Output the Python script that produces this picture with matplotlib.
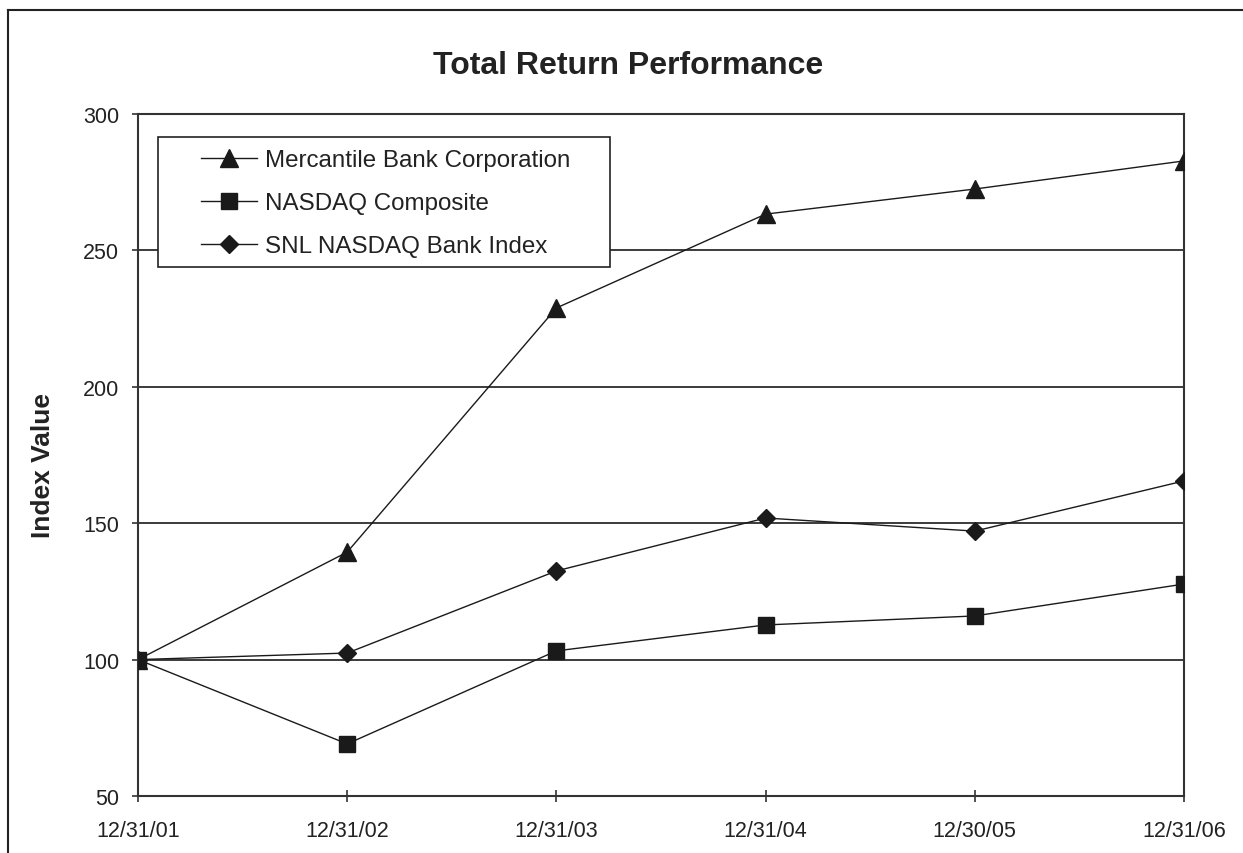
import matplotlib
matplotlib.use("Agg")
import matplotlib.pyplot as plt
from matplotlib.lines import Line2D
from matplotlib.patches import Rectangle

plt.rcParams['font.family'] = ['Liberation Sans', 'DejaVu Sans']

dates = ["12/31/01", "12/31/02", "12/31/03", "12/31/04", "12/30/05", "12/31/06"]
mercantile = [100, 139.4, 228.9, 263.3, 272.5, 282.8]
nasdaq = [100, 69.1, 103.2, 112.7, 116.0, 127.7]
snl_bank = [100, 102.4, 132.5, 151.9, 147.1, 165.5]

W, H = 1243, 854
fig = plt.figure(figsize=(W / 100, H / 100), dpi=100)

# outer frame (only top and left edges show in the original)
fig.add_artist(Line2D([8 / W, 1], [1 - 11 / H, 1 - 11 / H], color="#222222", lw=1.5))
fig.add_artist(Line2D([8 / W, 8 / W], [0, 1 - 11 / H], color="#222222", lw=1.5))

# axes box in pixels
L, R, T, B = 138, 1184, 115, 797
ax = fig.add_axes([L / W, 1 - B / H, (R - L) / W, (B - T) / H])
aw, ah = R - L, B - T

x = list(range(len(dates)))
ink = "#1a1a1a"
ax.plot(x, mercantile, color=ink, lw=1, marker="^", ms=13, label="Mercantile Bank Corporation", zorder=3)
ax.plot(x, nasdaq, color=ink, lw=1, marker="s", ms=11, label="NASDAQ Composite", zorder=3)
ax.plot(x, snl_bank, color=ink, lw=1, marker="D", ms=9.5, label="SNL NASDAQ Bank Index", zorder=3)

ax.set_xlim(0, len(dates) - 1)
ax.set_ylim(50, 300)
ax.set_yticks([50, 100, 150, 200, 250, 300])
ax.set_xticks(x)
ax.set_xticklabels(dates)
ax.yaxis.grid(True, color=ink, lw=1.2)
ax.set_axisbelow(True)
for s in ax.spines.values():
    s.set_color("#333333")
    s.set_linewidth(1.5)
ax.tick_params(axis="y", direction="out", length=4.5, width=1.2, labelsize=15.5, colors="#333333", pad=9)
ax.tick_params(axis="x", direction="inout", length=9, width=1.2, labelsize=15.5, colors="#333333", pad=12.5)
for lbl in ax.get_xticklabels() + ax.get_yticklabels():
    lbl.set_color("#222222")

ax.set_ylabel("Index Value", fontsize=19, fontweight="bold", color="#222222")
ax.yaxis.set_label_coords((55 - L) / aw, 1 - (465 - T) / ah)
fig.text(628 / W, 1 - 66 / H, "Total Return Performance", ha="center", va="center",
         fontsize=23, fontweight="bold", color="#222222")

# legend frame drawn separately so the wide inner padding matches
ax.add_patch(Rectangle(((158 - L) / aw, 1 - (268 - T) / ah), (610 - 158) / aw, (268 - 138) / ah,
                       transform=ax.transAxes, fill=True, facecolor="white",
                       edgecolor="#222222", lw=1.2, zorder=4))
leg = ax.legend(loc="upper left", bbox_to_anchor=((201 - L) / aw, 1 - (150 - T) / ah), frameon=False,
                fontsize=17.4, handlelength=2.3, borderpad=0, labelspacing=0.87,
                borderaxespad=0, handletextpad=0.33)
leg.set_zorder(5)
for t in leg.get_texts():
    t.set_color("#222222")

fig.savefig("out.png", dpi=100, facecolor="white")
